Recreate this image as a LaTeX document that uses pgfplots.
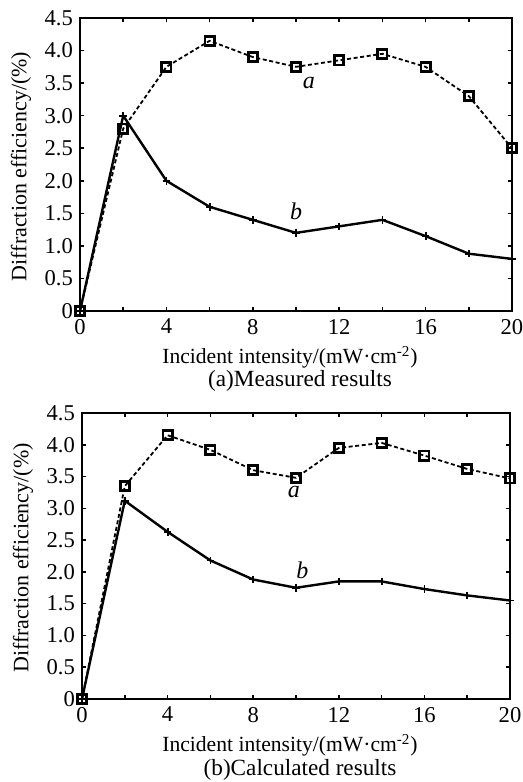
\documentclass[border=0pt]{standalone}
\usepackage{pgfplots}
\pgfplotsset{compat=1.18}
\usepackage{fontspec}
\setmainfont{Liberation Serif}
\pgfplotsset{
  myax/.style={
    scale only axis,
    anchor=south west,
    xmin=0, xmax=20, ymin=0, ymax=4.5,
    xtick={0,2,...,20},
    xticklabels={0,,4,,8,,12,,16,,20},
    ytick={0,0.5,...,4.5},
    yticklabels={0,0.5,1.0,1.5,2.0,2.5,3.0,3.5,4.0,4.5},
    tick align=inside,
    major tick length=2.2pt,
    tick style={line width=0.8pt,black},
    axis line style={line width=0.9pt},
    /pgf/number format/assume math mode=true,
    tick label style={font=\fontsize{11.3}{12}\selectfont},
    xticklabel style={yshift=-0.5pt},
    yticklabel style={xshift=0pt},
    clip=false,
  },
  curvea/.style={black, line width=0.9pt, dash pattern=on 2pt off 1.3pt, mark=square, mark size=2.3pt, mark options={solid,line width=1.4pt}},
  curveb/.style={black, line width=1.2pt, mark=+, mark size=1.9pt, mark options={solid,line width=0.9pt}},
}
\begin{document}
\begin{tikzpicture}
\useasboundingbox (0,0) rectangle (261.5pt,391pt);
\begin{axis}[myax, width=216pt, height=146.5pt, at={(40pt,235.5pt)}]
\addplot[curvea] coordinates {(0,0) (2,2.8) (4,3.75) (6,4.15) (8,3.9) (10,3.75) (12,3.85) (14,3.95) (16,3.75) (18,3.3) (20,2.5)};
\addplot[curveb] coordinates {(0,0) (2,3.0) (4,2.0) (6,1.6) (8,1.4) (10,1.2) (12,1.3) (14,1.4) (16,1.15) (18,0.88) (20,0.8)};
\node[font=\fontsize{12}{12}\selectfont\itshape] at (axis cs:10.6,3.5) {a};
\node[font=\fontsize{12}{12}\selectfont\itshape] at (axis cs:10.0,1.53) {b};
\node[font=\fontsize{10.8}{12}\selectfont, anchor=base] at ([xshift=-3pt,yshift=-26.5pt]rel axis cs:0.5,0) {Incident intensity/(mW·cm\textsuperscript{-2})};
\node[font=\fontsize{11.6}{12}\selectfont, anchor=base] at ([xshift=2pt,yshift=-38pt]rel axis cs:0.5,0) {(a)Measured results};
\node[font=\fontsize{11}{12}\selectfont, rotate=90] at ([xshift=-29.5pt,yshift=-1pt]rel axis cs:0,0.5) {Diffraction efficiency/(\%)};
\end{axis}
\begin{axis}[myax, width=214pt, height=143pt, at={(41pt,41.5pt)}]
\addplot[curvea] coordinates {(0,0) (2,3.35) (4,4.15) (6,3.92) (8,3.6) (10,3.48) (12,3.95) (14,4.03) (16,3.83) (18,3.62) (20,3.47)};
\addplot[curveb] coordinates {(0,0) (2,3.12) (4,2.63) (6,2.18) (8,1.88) (10,1.75) (12,1.85) (14,1.85) (16,1.73) (18,1.63) (20,1.55)};
\node[font=\fontsize{12}{12}\selectfont\itshape] at (axis cs:9.9,3.25) {a};
\node[font=\fontsize{12}{12}\selectfont\itshape] at (axis cs:10.3,2.02) {b};
\node[font=\fontsize{10.8}{12}\selectfont, anchor=base] at ([xshift=-3pt,yshift=-26.5pt]rel axis cs:0.5,0) {Incident intensity/(mW·cm\textsuperscript{-2})};
\node[font=\fontsize{11.6}{12}\selectfont, anchor=base] at ([xshift=2pt,yshift=-38pt]rel axis cs:0.5,0) {(b)Calculated results};
\node[font=\fontsize{11}{12}\selectfont, rotate=90] at ([xshift=-29.5pt,yshift=-1pt]rel axis cs:0,0.5) {Diffraction efficiency/(\%)};
\end{axis}
\end{tikzpicture}
\end{document}
